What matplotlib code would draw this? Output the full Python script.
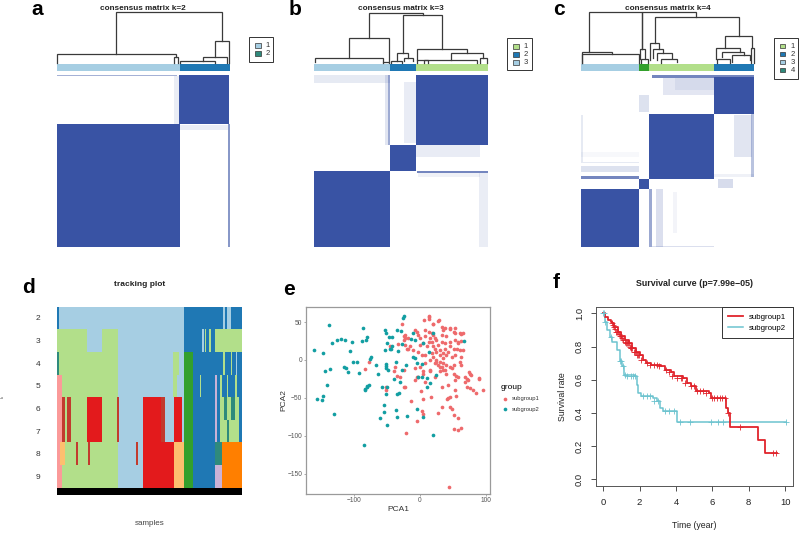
import matplotlib
matplotlib.use("Agg")
import matplotlib.pyplot as plt
from matplotlib.patches import Rectangle

plt.rcParams['font.family'] = ['Liberation Sans', 'DejaVu Sans']

LB = "#a6cee3"
BL = "#1f78b4"
LG = "#b2df8a"
GR = "#33a02c"
RD = "#e31a1c"
PK = "#fb9a99"
LO = "#fdbf6f"
OR = "#ff7f00"
PU = "#cab2d6"
DR = "#c23b2e"
TE = "#2f8a7c"
HEAT = "#3953a4"

# Consensus panels: units are sample order / dendrogram height on a common grid
# bars: (start, end, colour), blocks: (x0, x1, y0, y1, shade)
a_bar = [(170, 539, LB), (539, 690, BL)]
a_blocks = [(170, 530, 224, 229, .45), (522, 538, 229, 372, .1), (538, 688, 225, 372, 1),
            (170, 539, 372, 742, 1), (540, 684, 376, 390, .1), (684, 689, 372, 742, .6)]
a_dendro = [(349, 666, 35, 163, 122), (172, 527, 163, 188, 172), (522, 535, 172, 188, 188),
            (645, 688, 122, 170, 188), (610, 682, 170, 183, 188), (540, 645, 183, 188, 188)]

b_bar = [(102, 331, LB), (331, 408, BL), (408, 623, LG)]
b_blocks = [(102, 331, 225, 248, .12), (315, 331, 225, 435, .15), (325, 331, 225, 435, .4),
            (372, 408, 245, 430, .11), (408, 600, 435, 472, .11), (410, 623, 512, 518, .7),
            (415, 600, 518, 530, .08), (598, 623, 518, 740, .1),
            (408, 623, 225, 435, 1), (331, 408, 435, 512, 1), (102, 331, 512, 740, 1)]
b_dendro = [(268, 428, 38, 115, 46), (368, 487, 46, 160, 147), (208, 328, 115, 173, 185),
            (105, 310, 173, 186, 186), (310, 328, 185, 188, 188), (350, 385, 160, 182, 173),
            (333, 365, 182, 188, 188), (372, 398, 173, 183, 183), (410, 562, 147, 180, 158),
            (512, 608, 158, 180, 175), (433, 590, 180, 188, 188), (600, 620, 175, 188, 188),
            (410, 445, 180, 188, 188)]

c_bar = [(122, 298, LB), (298, 327, GR), (327, 522, LG), (522, 642, BL)]
c_blocks = [(337, 642, 226, 234, .7), (370, 522, 235, 285, .14), (405, 522, 235, 270, .08),
            (298, 327, 285, 335, .17), (582, 635, 345, 470, .15), (632, 642, 232, 530, .35),
            (122, 298, 527, 538, .7), (122, 298, 497, 515, .17), (122, 298, 485, 490, .12),
            (122, 128, 345, 485, .12), (122, 298, 455, 470, .04), (535, 580, 538, 565, .2),
            (327, 337, 567, 742, .5), (348, 370, 567, 742, .18), (400, 410, 575, 700, .06),
            (337, 522, 737, 742, .18), (522, 642, 522, 532, .08),
            (522, 642, 232, 342, 1), (327, 522, 342, 537, 1), (298, 327, 538, 567, 1),
            (122, 298, 567, 742, 1)]
c_dendro = [(147, 306, 36, 157, 147), (306, 468, 36, 147, 50), (345, 597, 50, 130, 108),
            (330, 358, 130, 180, 148), (340, 370, 148, 175, 160), (350, 395, 160, 180, 175),
            (362, 412, 177, 188, 186), (556, 637, 108, 143, 145), (528, 600, 145, 178, 155),
            (545, 612, 155, 172, 165), (575, 630, 165, 185, 180), (532, 570, 176, 188, 188),
            (633, 642, 145, 188, 188), (125, 215, 157, 188, 162), (125, 298, 163, 188, 188),
            (300, 315, 148, 178, 178), (302, 325, 178, 188, 188)]

# Tracking plot: runs per k, (end of run, colour), first run starts at 170
track_k = [2, 3, 4, 5, 6, 7, 8, 9]
track_runs = [
    [(172, LB), (178, BL), (553, LB), (668, BL), (676, LB), (680, BL), (692, LB), (726, BL)],
    [(260, LG), (307, LB), (355, LG), (553, LB), (605, BL), (611, LB), (615, BL), (618, LG),
     (628, BL), (632, LG), (645, BL), (726, LG)],
    [(172, LG), (178, TE), (355, LG), (520, LB), (538, LG), (553, LB), (580, GR), (668, BL),
     (675, LG), (692, BL), (696, LG), (708, BL), (710, LB), (726, BL)],
    [(186, PK), (355, LG), (520, LB), (530, LG), (553, LB), (580, GR), (600, BL), (604, LG),
     (645, BL), (650, PU), (660, BL), (665, LG), (680, BL), (685, LG), (704, BL), (712, LG), (726, BL)],
    [(186, PK), (195, DR), (200, LG), (212, DR), (260, LG), (307, RD), (350, LG), (357, DR),
     (430, LB), (483, RD), (494, DR), (523, LB), (545, RD), (553, LB), (580, GR), (645, BL),
     (650, PU), (661, BL), (672, LG), (682, TE), (693, LG), (704, TE), (716, LG), (726, BL)],
    [(186, PK), (195, DR), (200, LG), (212, DR), (260, LG), (307, RD), (350, LG), (357, DR),
     (430, LB), (483, RD), (494, DR), (523, LB), (545, RD), (553, LB), (580, GR), (645, BL),
     (650, PU), (661, BL), (682, LG), (686, TE), (716, LG), (726, BL)],
    [(180, PK), (195, LO), (228, LG), (235, DR), (264, LG), (270, DR), (355, LG), (408, LB),
     (413, DR), (430, LB), (522, RD), (553, LO), (580, GR), (645, BL), (665, TE), (726, OR)],
    [(186, PK), (355, LG), (430, LB), (522, RD), (553, LO), (580, GR), (645, BL), (665, PU), (726, OR)],
]

# PCA scatter
sub1_x = [6, 13, 13, 29, 20, 33, 38, 46, 51, 62, 53, 8, 13, 18, 20, -5, -3, -8, -23, -23, -18, 0, 8, 15, 23, 33, 40,
          53, 58, 63, 46, 38, 28, 20, 10, 0, -15, -10, -3, 8, 18, 25, 30, 35, 40, 48, 53, 66, 25, 30, 35, 40, 33, 28,
          46, 51, 61, 15, 8, 0, -8, 5, -3, 15, 23, 40, 38, 30, 51, 58, 68, 76, 73, 89, 53, 8, -8, -23, -25, -18, 20,
          23, 35, 18, 13, 5, 3, 46, 56, 51, 30, 38, 43, 23, 33, 25, 74, 77, 71, 69, 72, 76, 80, 85, 89, 95, 55, 43,
          34, 53, 41, 43, 46, 54, 34, 46, 48, 28, 52, 57, 51, 57, 63, 44, -21, -5, 3, 5, -13, 1, 4, 17, -28, -35, -40,
          -51, -52, -84, -77, -38, -24, -23, -25, -31, 13, -24, -20, -33, -46, -5, 5, 15, 25, 30, 35, 48, 63, 63, 61,
          58, 66, 61, 53, 46, 35, 28, 20]
sub1_y = [53, 58, 54, 53, 48, 43, 42, 41, 37, 34, 35, 40, 37, 35, 33, 37, 33, 40, 33, 29, 29, 29, 31, 29, 29, 33, 31,
          26, 22, 25, 24, 22, 20, 18, 18, 20, 18, 13, 11, 7, 9, 11, 7, 9, 7, 4, 7, 13, 0, -2, -4, -7, -9, -7, -9, -7,
          -2, 0, -4, -9, -11, -15, -22, -15, -22, -18, -13, -15, -18, -22, -22, -18, -26, -24, -26, -29, -26, 20, 26,
          15, 4, -4, 2, 24, 24, 22, 7, 18, 15, 15, 13, 15, 11, 15, 24, 26, -16, -20, -25, -29, -35, -37, -40, -44, -25,
          -40, -21, -33, -35, -40, -51, -50, -49, -48, -62, -62, -64, -70, -73, -77, -91, -92, -90, -167, -96, -81,
          -67, -71, -54, -41, -51, -49, 47, -21, -14, -36, -39, -12, -2, -9, -13, -35, -36, -22, 57, 31, 15, 21, 18,
          -22, -18, -13, -2, -9, -13, -11, -7, 4, 13, 24, 35, 35, 42, 42, 40, 52, 48]
sub2_x = [-161, -147, -138, -133, -126, -120, -114, -106, -103, -86, -88, -82, -81, -102, -96, -116, -113, -110, -144,
          -137, -92, -141, -156, -149, -147, -130, -85, -74, -76, -67, -64, -80, -78, -83, -81, -84, -58, -51, -50,
          -55, -55, -61, -50, -36, -35, -20, -35, -32, -4, 4, 19, -53, -51, -47, -42, -35, -29, -26, -24, -50, -53,
          -46, -43, -44, -33, -52, -51, -52, -49, -37, -28, -21, -39, -31, -10, -14, -8, 5, -11, -8, -4, 3, 20, 67,
          -3, 10, 15, 24, 3, -27, 13, 11]
sub2_y = [13, 9, 46, 22, 26, 28, 26, 12, 24, 42, 25, 26, 30, -3, -2, -9, -10, -16, -15, -12, -17, -33, -51, -53, -48,
          -71, -112, 4, 1, -7, -18, -34, -33, -39, -36, -38, -36, -45, -35, -60, -68, -76, -86, -66, -75, -74, -45,
          -44, -65, -75, -99, 40, 35, 30, 30, 39, 38, 56, 58, 23, 13, 14, 18, 15, 12, -5, -8, -11, -13, -2, -13, -7,
          -25, -29, 36, 28, 26, 22, 4, 2, -4, -5, 35, 25, -23, -24, -31, -20, -22, 21, 11, -35]
pca_xticks = [-100, 0, 100]
pca_yticks = [50, 0, -50, -100, -150]

# Survival curves
surv1_t = [0, 0.1, 0.25, 0.4, 0.5, 0.6, 0.8, 1, 1.2, 1.4, 1.6, 1.8, 2, 2.2, 2.35, 2.6, 3.2, 3.4, 3.7, 3.9, 4.4, 4.6,
           4.8, 5.1, 5.8, 5.9, 6.75, 6.85, 6.95, 8.53, 8.9, 9.58]
surv1_s = [1, .98, .96, .945, .94, .92, .89, .865, .84, .82, .79, .77, .75, .72, .70, .69, .68, .66, .645, .62, .61,
           .58, .56, .53, .52, .49, .43, .40, .317, .235, .158, .158]
cens1_t = [.5, .55, .6, .65, .7, .75, .8, .85, .9, .95, 1, 1.05, 1.1, 1.2, 1.25, 1.3, 1.35, 1.4, 1.45, 1.5, 1.55, 1.6,
           1.7, 1.75, 1.8, 1.85, 1.9, 1.95, 2.05, 2.4, 2.55, 2.8, 2.95, 3.05, 3.45, 3.6, 3.8, 4.05, 4.25, 4.35, 4.5,
           4.85, 5, 5.15, 5.3, 5.5, 5.65, 6, 6.1, 6.25, 6.4, 6.55, 6.7, 6.85, 7.5, 9.35, 9.5]
cens1_s = [.94, .93, .92, .905, .89, .89, .89, .875, .865, .865, .865, .85, .84, .83, .82, .82, .82, .82, .80, .79,
           .79, .79, .77, .77, .77, .75, .75, .75, .72, .70, .69, .69, .69, .68, .66, .645, .62, .61, .61, .61, .58,
           .56, .56, .53, .53, .53, .52, .49, .49, .49, .49, .49, .49, .40, .317, .158, .158]
surv2_t = [0, 0.1, 0.2, 0.37, 0.5, 0.73, 0.9, 1.05, 1.14, 1.74, 1.85, 1.93, 2.1, 2.75, 2.93, 3.1, 3.3, 4.03, 10.05]
surv2_s = [1, .95, .9, .86, .83, .78, .71, .68, .63, .62, .57, .52, .5, .49, .47, .43, .41, .347, .347]
cens2_t = [0, .05, .1, .4, .9, 1.0, 1.1, 1.2, 1.3, 1.5, 1.65, 1.75, 2.2, 2.4, 2.55, 2.8, 3.0, 3.4, 3.6, 3.9, 4.2, 4.75,
           5.9, 6.3, 6.6, 10.05]
cens2_s = [1, 1, .95, .86, .71, .71, .68, .63, .62, .62, .62, .62, .5, .5, .5, .47, .47, .41, .41, .41, .347, .347,
           .347, .347, .347, .347]
surv_xticks = [0, 2, 4, 6, 8, 10]
surv_yticks = [0.0, 0.2, 0.4, 0.6, 0.8, 1.0]


def new_ax(left, top, w, h):
    return fig.add_axes([left / 800, 1 - (top + h) / 534, w / 800, h / 534])


def consensus(left, width, title, title_x, letter, letter_x, bar, blocks, dendro, legend_box, legend_labels, legend_colors):
    ax = new_ax(left, 0, width, 260)
    ax.set_xlim(0, width * 3)
    ax.set_ylim(780, 0)
    ax.axis("off")
    for x0, x1, c in bar:
        ax.add_patch(Rectangle((x0, 193), x1 - x0, 21, color=c, lw=0))
    for x0, x1, y0, y1, shade in blocks:
        ax.add_patch(Rectangle((x0, y0), x1 - x0, y1 - y0, color=HEAT, alpha=shade, lw=0))
    for x0, x1, top, lb, rb in dendro:
        ax.plot([x0, x0, x1, x1], [lb, top, top, rb], color="#3a3a3a", lw=0.9, solid_joinstyle="miter")
    ax.text(title_x, 24, title, ha="center", va="center", fontsize=5.9, fontweight="bold", color="#222222")
    ax.text(letter_x, 45, letter, ha="center", va="baseline", fontsize=15, fontweight="bold", color="black")
    bx, by, bw, bh = legend_box
    ax.add_patch(Rectangle((bx, by), bw, bh, fc="white", ec="#333333", lw=0.7))
    for i, (lab, c) in enumerate(zip(legend_labels, legend_colors)):
        yc = by + 25 + i * 24
        ax.add_patch(Rectangle((bx + 17, yc - 7), 17, 13, fc=c, ec="#333333", lw=0.5))
        ax.text(bx + 56, yc, lab, ha="center", va="center", fontsize=5.5, color="#333333")
    return ax


fig = plt.figure(figsize=(8, 5.34), dpi=100)

consensus(0, 280, "consensus matrix k=2", 428, "a", 113, a_bar, a_blocks, a_dendro,
          (748, 112, 72, 74), ["1", "2"], [LB, TE])
consensus(280, 270, "consensus matrix k=3", 362, "b", 44, b_bar, b_blocks, b_dendro,
          (682, 115, 74, 95), ["1", "2", "3"], [LG, BL, LB])
consensus(540, 260, "consensus matrix k=4", 382, "c", 57, c_bar, c_blocks, c_dendro,
          (702, 113, 71, 123), ["1", "2", "3", "4"], [LG, BL, LB, TE])

# d: tracking plot
ax_d = new_ax(170 / 3, 270 + 110 / 3, 556 / 3, 566 / 3)
ax_d.set_xlim(170, 726)
ax_d.set_ylim(9.84, 1.5)
for k, runs in zip(track_k, track_runs):
    start = 170
    for end, c in runs:
        ax_d.barh(k, end - start, left=start, height=1.0, color=c, lw=0)
        start = end
ax_d.barh(9.67, 556, left=170, height=0.34, color="black", lw=0)
ax_d.set_yticks(track_k)
ax_d.set_yticklabels(track_k, fontsize=6, color="#333333")
ax_d.set_xticks([])
ax_d.tick_params(axis="y", length=0, pad=12)
for s in ax_d.spines.values():
    s.set_visible(False)
ax_d.set_xlabel("samples", fontsize=5.8, color="#444444", labelpad=18)
fig.text(140 / 800, 1 - (270 + 14.7) / 534, "tracking plot", ha="center", va="center", fontsize=6,
         fontweight="bold", color="#222222")
fig.text(28 / 800, 1 - 293 / 534, "d", ha="center", va="baseline", fontsize=15, fontweight="bold")
fig.text(3 / 800, 1 - (270 + 127) / 534, "k", ha="center", va="center", fontsize=3, rotation=90, color="#444444")

# e: PCA
ax_e = new_ax(270 + 107 / 3, 290 + 50 / 3, 554 / 3, 562 / 3)
ax_e.scatter(sub1_x, sub1_y, s=7, color="#ee6a6c", lw=0, label="subgroup1")
ax_e.scatter(sub2_x, sub2_y, s=7, color="#129ea2", lw=0, label="subgroup2")
ax_e.set_xlim(-173.7, 106.8)
ax_e.set_ylim(-176.7, 70.3)
ax_e.set_xticks(pca_xticks)
ax_e.set_xticklabels(["\u2212100", "0", "100"])
ax_e.set_yticks(pca_yticks)
ax_e.set_yticklabels(["50", "0", "\u221250", "\u2212100", "\u2212150"])
ax_e.tick_params(labelsize=4.8, labelcolor="#555555", color="#888888", length=1.5, width=0.5, pad=1)
for s in ax_e.spines.values():
    s.set_color("#9a9a9a")
    s.set_linewidth(0.9)
ax_e.set_xlabel("PCA1", fontsize=6, color="#333333", labelpad=1)
ax_e.set_ylabel("PCA2", fontsize=6, color="#333333", labelpad=0)
leg = ax_e.legend(title="group", loc="upper left", bbox_to_anchor=(1.056, 0.587), frameon=False, fontsize=4.2,
                  title_fontsize=6, markerscale=1, handletextpad=0.3, labelspacing=0.92, borderaxespad=0, borderpad=0,
                  handlelength=1.6)
leg._legend_box.align = "left"
for t in leg.get_texts():
    t.set_color("#333333")
fig.text(289 / 800, 1 - 295 / 534, "e", ha="center", va="baseline", fontsize=15, fontweight="bold")

# f: survival
ax_f = new_ax(550 + 137 / 3, 270 + 110 / 3, 591 / 3, 538 / 3)
ax_f.step(surv2_t, surv2_s, where="post", color="#6cc3cf", lw=1.1, label="subgroup2")
ax_f.step(surv1_t, surv1_s, where="post", color="#e0242c", lw=1.3, label="subgroup1")
ax_f.plot(cens2_t, cens2_s, "+", color="#6cc3cf", ms=4.5, mew=0.6)
ax_f.plot(cens1_t, cens1_s, "+", color="#e0242c", ms=4.5, mew=0.6)
ax_f.set_xlim(-0.42, 10.42)
ax_f.set_ylim(-0.04, 1.04)
ax_f.set_xticks(surv_xticks)
ax_f.set_yticks(surv_yticks)
ax_f.set_yticklabels(["0.0", "0.2", "0.4", "0.6", "0.8", "1.0"], rotation=90, va="center")
ax_f.tick_params(labelsize=6.8, labelcolor="#222222", color="#333333", length=3.5, width=0.6, pad=5)
for s in ax_f.spines.values():
    s.set_color("#555555")
    s.set_linewidth(0.7)
ax_f.set_xlabel("Time (year)", fontsize=6.3, color="#222222", labelpad=10)
ax_f.set_ylabel("Survival rate", fontsize=6.3, color="#222222", labelpad=6)
ax_f.set_title("Survival curve (p=7.99e\u221205)", fontsize=6.4, fontweight="bold", color="#222222", pad=15)
handles, labels = ax_f.get_legend_handles_labels()
leg_f = ax_f.legend(handles[::-1], labels[::-1], loc="upper right", fontsize=5.7, fancybox=False, framealpha=1,
                    edgecolor="#333333", borderaxespad=0, handlelength=1.9, handletextpad=0.75, labelspacing=0.5,
                    borderpad=0.8)
leg_f.get_frame().set_linewidth(0.7)
fig.text(556 / 800, 1 - 288 / 534, "f", ha="center", va="baseline", fontsize=15, fontweight="bold")

fig.savefig("out.png", dpi=100)
